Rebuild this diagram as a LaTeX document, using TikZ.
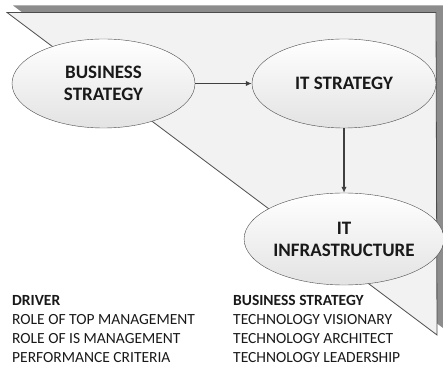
\documentclass[tikz,border=0pt]{standalone}
\usepackage{fontspec}
\setmainfont{Carlito}
\usetikzlibrary{shapes.geometric,arrows.meta}
\begin{document}
\begin{tikzpicture}[x=1pt,y=1pt,
  bubble/.style={draw=black!70, ellipse, top color=white, bottom color=black!11, inner sep=0pt, align=center, font=\fontsize{19}{22}\selectfont\bfseries, text=black!90},
  link/.style={draw=black!75, line width=1.3pt, -{Latex[length=6pt,width=5.5pt]}},
  list/.style={align=left, anchor=north west, inner sep=0pt, font=\fontsize{15.5}{19}\selectfont, text=black!90}]
\useasboundingbox (0,0) rectangle (443,369);

\fill[black!45] (13,363.5) -- (443,363.5) -- (443,41) -- cycle;
\path[draw=black!70, fill=black!5, line width=0.8pt] (7,356.5) -- (436,356.5) -- (437,34) -- cycle;

\node[bubble, minimum width=183pt, minimum height=89pt] (a) at (103.5,285.5) {BUSINESS\\STRATEGY};
\node[bubble, minimum width=184pt, minimum height=89pt] (b) at (344,285.5) {IT STRATEGY};
\node[bubble, minimum width=184pt, minimum height=92pt] (c) at (344,130) {IT\\INFRASTRUCTURE};
\path[link] (a) -- (b);
\path[link] (b) -- (c);

\node[list] (d) at (12,74) {\textbf{DRIVER}\\ROLE OF TOP MANAGEMENT\\ROLE OF IS MANAGEMENT\\PERFORMANCE CRITERIA};
\node[list] (e) at (233,74) {\textbf{BUSINESS STRATEGY}\\TECHNOLOGY VISIONARY\\TECHNOLOGY ARCHITECT\\TECHNOLOGY LEADERSHIP};
\end{tikzpicture}
\end{document}
